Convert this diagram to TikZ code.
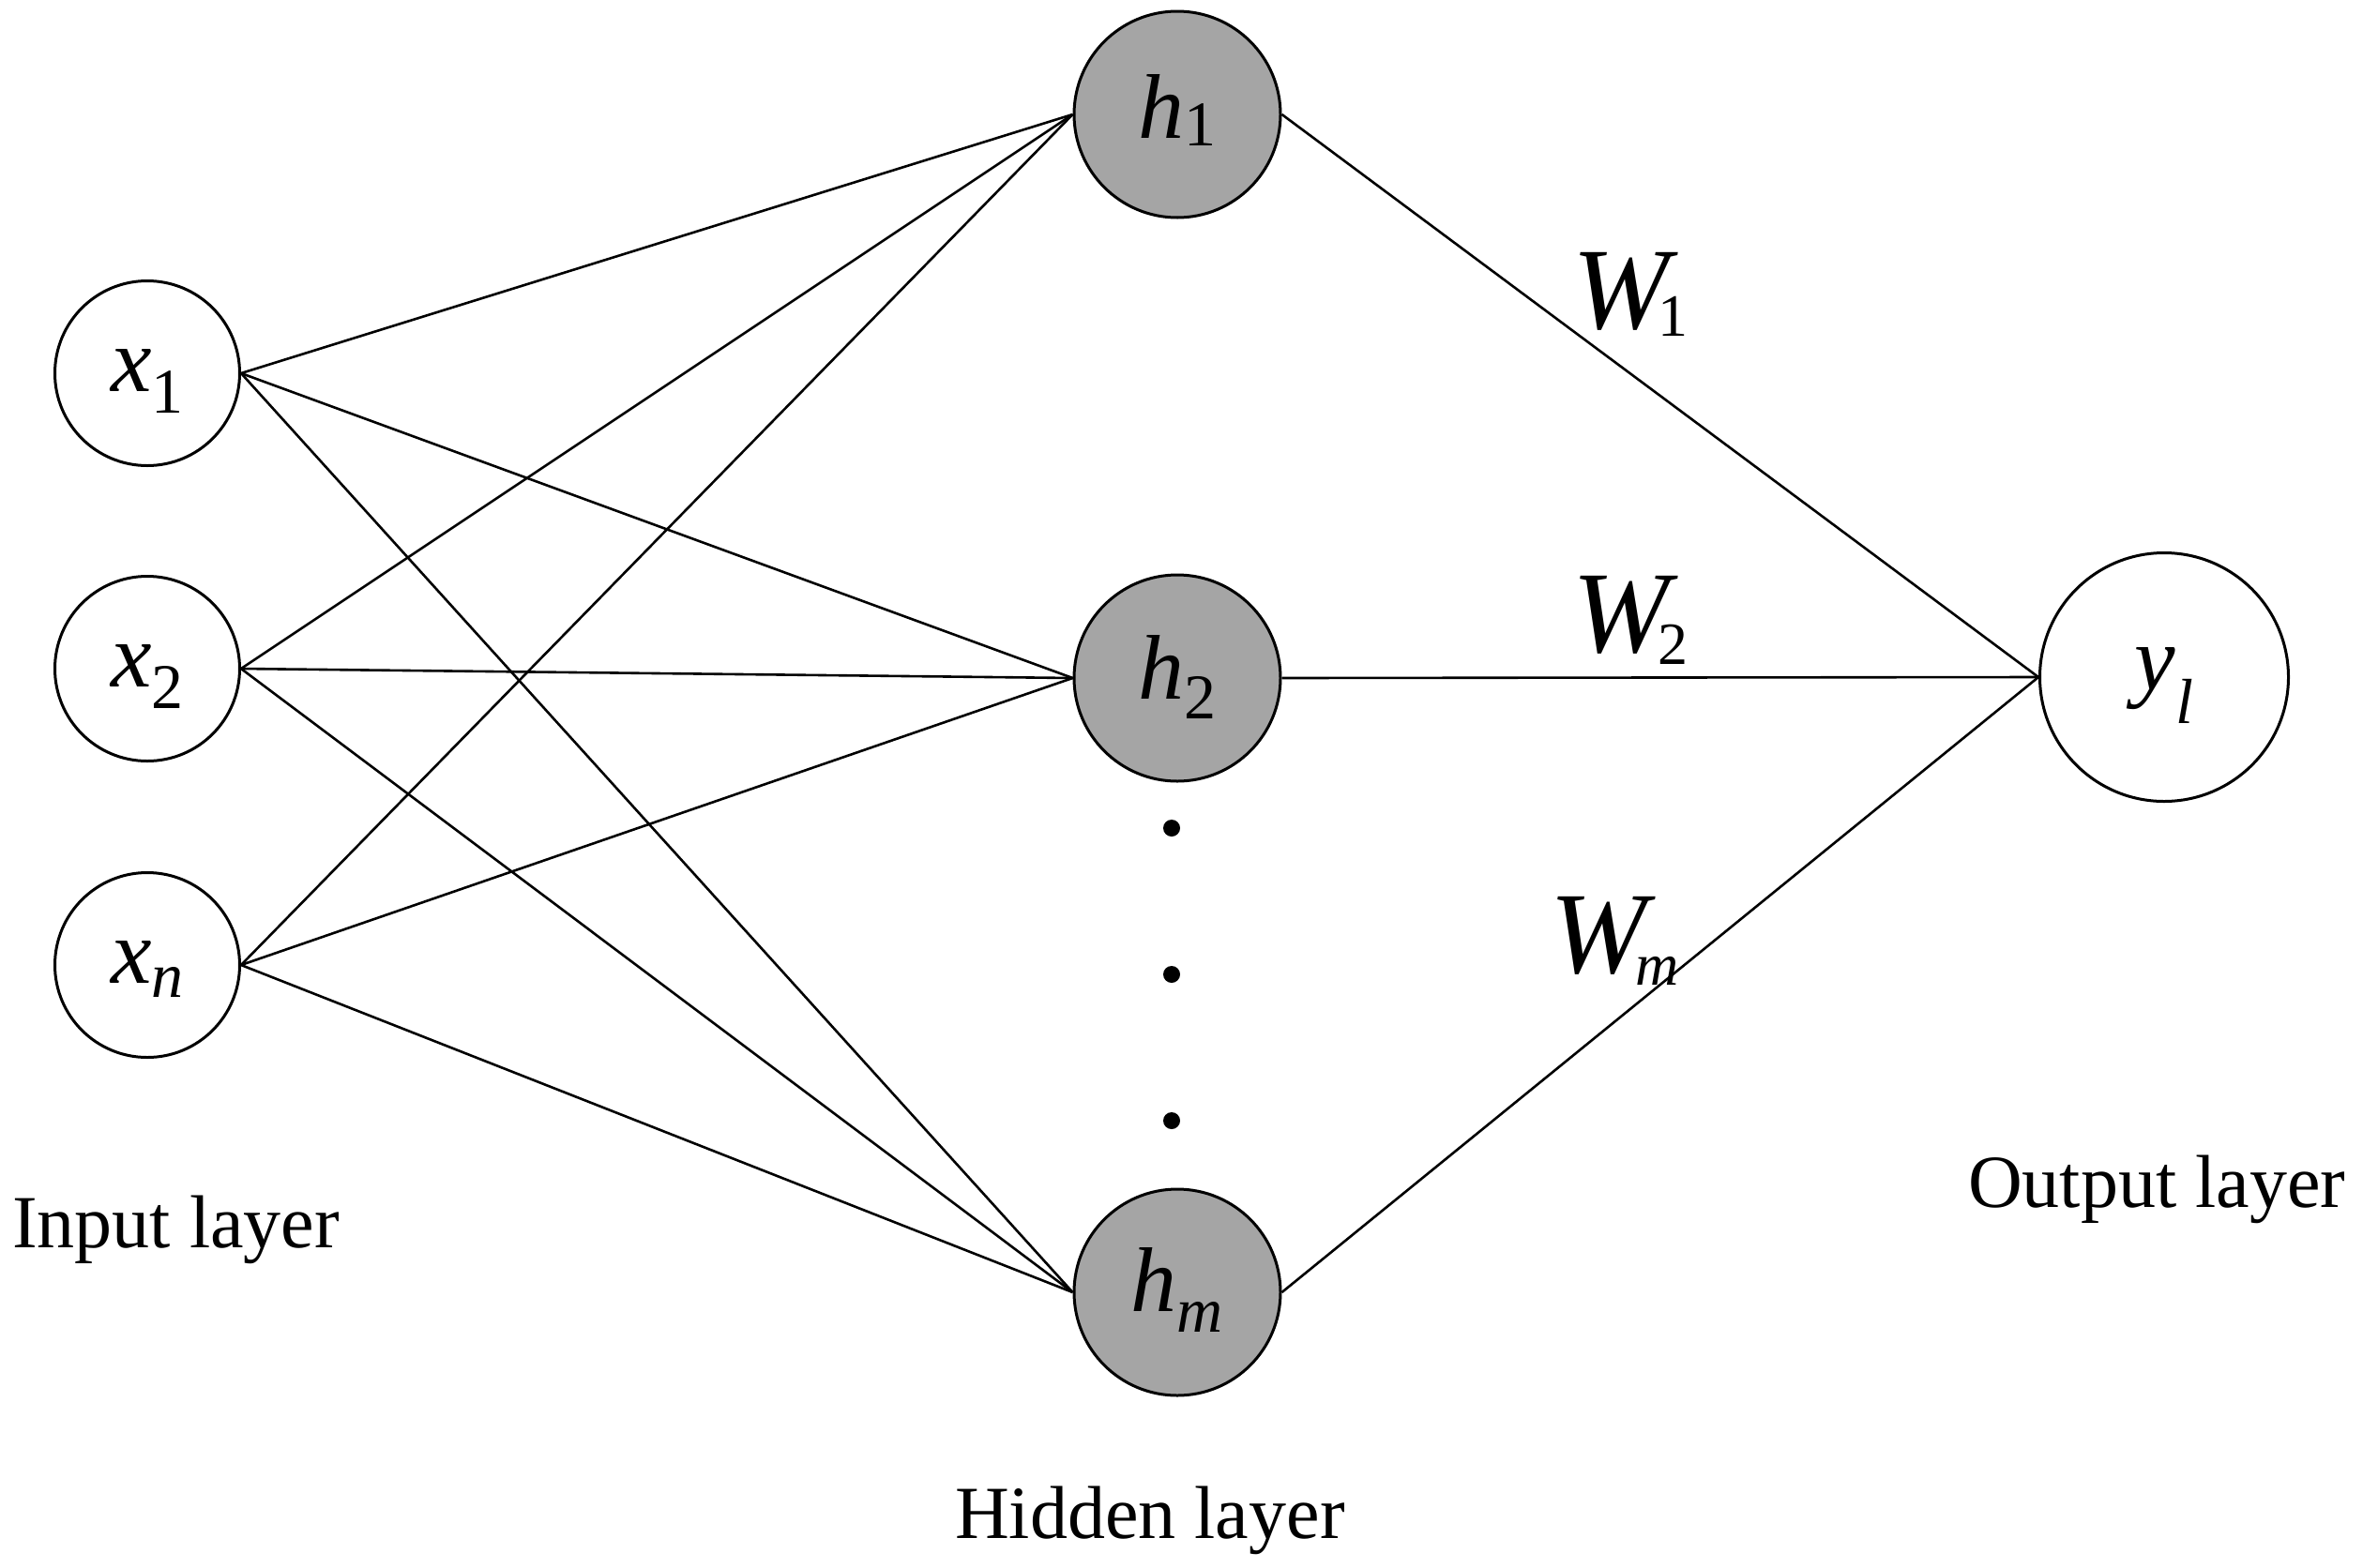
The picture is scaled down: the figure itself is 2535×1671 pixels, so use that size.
\documentclass[tikz,border=0pt]{standalone}
\usepackage{fontspec}
\setmainfont{Liberation Serif}
\definecolor{hgray}{RGB}{165,165,165}
\newcommand{\nlab}[3]{{\fontsize{98}{98}\selectfont\itshape #1\/}\raisebox{-#3pt}{\fontsize{68}{68}\selectfont #2}}
\newcommand{\wlab}[3]{{\fontsize{124}{124}\selectfont\itshape #1}\kern-12pt\raisebox{-#3pt}{\fontsize{64}{64}\selectfont #2}}
\begin{document}
\begin{tikzpicture}[x=1pt,y=-1pt,
  inode/.style={circle,draw=black,line width=3pt,fill=white,inner sep=0pt,minimum size=197pt,text depth=0pt},
  hnode/.style={circle,draw=black,line width=3pt,fill=hgray,inner sep=0pt,minimum size=220pt,text depth=0pt},
  onode/.style={circle,draw=black,line width=3pt,fill=white,inner sep=0pt,minimum size=265pt,text depth=0pt},
  conn/.style={line width=2.6pt,black},
  dotnode/.style={circle,fill=black,inner sep=0pt,minimum size=18pt},
  layertext/.style={anchor=base west,inner sep=0pt,font=\fontsize{80}{80}\selectfont},
  wtext/.style={anchor=base west,inner sep=0pt}]
\useasboundingbox (0,0) rectangle (2535,1671);
\coordinate (cx1) at (157,398);
\coordinate (cx2) at (157,713);
\coordinate (cxn) at (157,1029);
\coordinate (ch1) at (1255,122);
\coordinate (ch2) at (1255,723);
\coordinate (chm) at (1255,1378);
\coordinate (cyl) at (2307,722);
% nodes
\node[inode,text height=38pt] (x1) at (cx1) {\nlab{x}{1}{23}};
\node[inode,text height=38pt] (x2) at (cx2) {\nlab{x}{2}{23}};
\node[inode,text height=38pt] (xn) at (cxn) {\nlab{x}{\itshape n}{15}};
\node[hnode,text height=50pt] (h1) at (ch1) {\nlab{h}{1}{8}};
\node[hnode,text height=44pt] (h2) at (ch2) {\nlab{h}{2}{21}};
\node[hnode,text height=40pt] (hm) at (chm) {\nlab{h}{\itshape m}{22}};
\node[onode,text height=26pt] (yl) at (cyl) {\nlab{y}{\itshape l}{36}};
% connections
\foreach \i in {x1,x2,xn}{
  \foreach \j in {h1,h2,hm}{
    \draw[conn] (\i.east) -- (\j.west);
  }
}
\foreach \j in {h1,h2,hm}{
  \draw[conn] (\j.east) -- (yl.west);
}
% dots
\node[dotnode] (d1) at (1249,883) {};
\node[dotnode] (d2) at (1249,1039) {};
\node[dotnode] (d3) at (1249,1195) {};
% weight labels
\node[wtext] (w1) at (1676,350) {\wlab{W}{1}{8}};
\node[wtext] (w2) at (1676,695) {\wlab{W}{2}{13}};
\node[wtext] (wm) at (1652,1037) {\wlab{W}{\itshape m}{13}};
% layer labels
\node[layertext] (lin) at (13,1330) {Input layer};
\node[layertext] (lhid) at (1018,1640) {Hidden layer};
\node[layertext] (lout) at (2098,1287) {Output layer};
\end{tikzpicture}
\end{document}
